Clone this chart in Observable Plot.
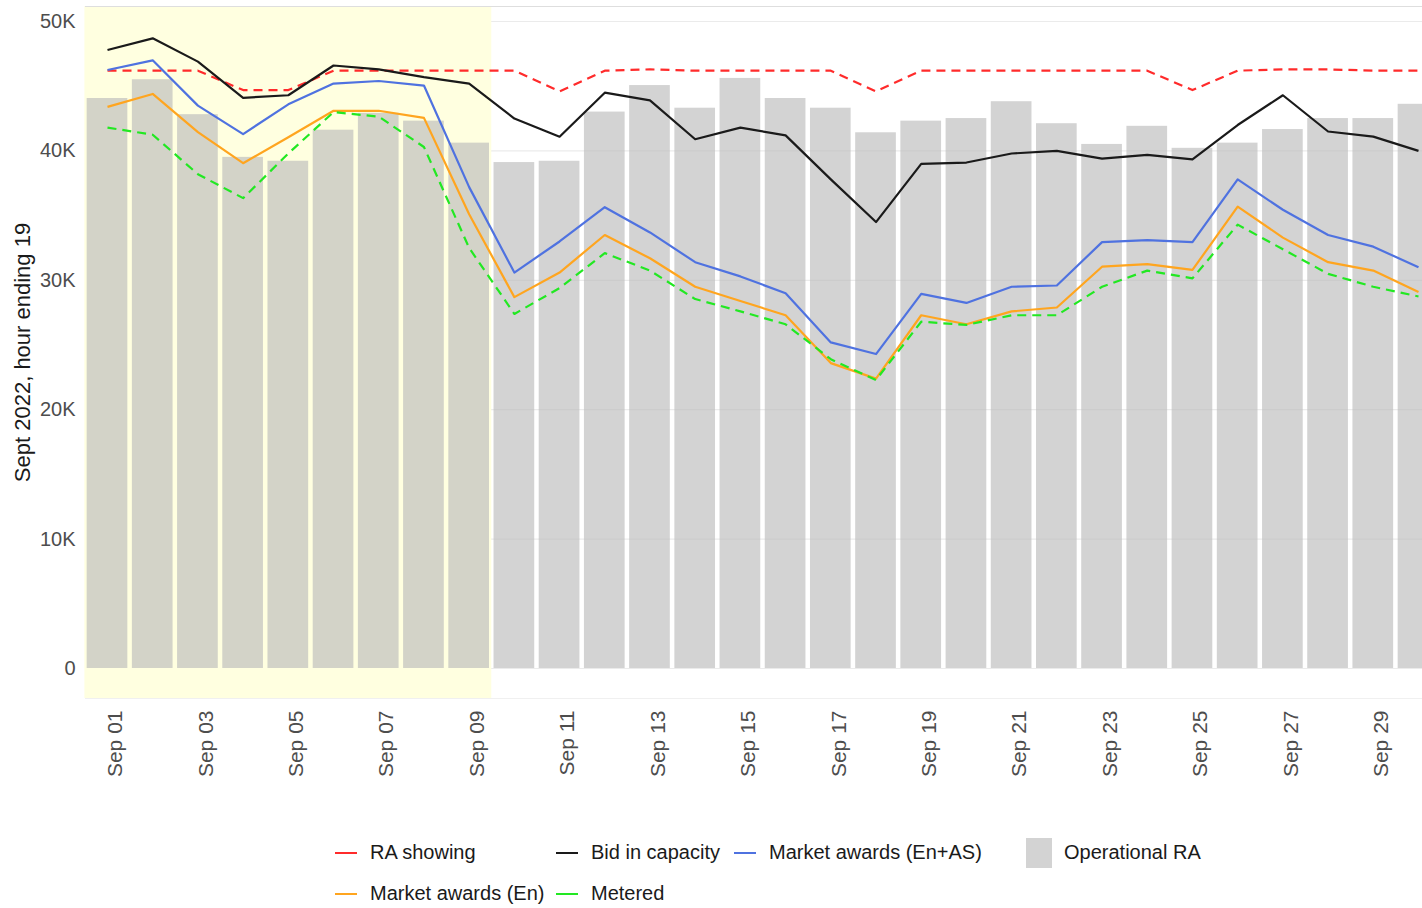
<!DOCTYPE html>
<html><head><meta charset="utf-8">
<script src="https://cdn.jsdelivr.net/npm/d3@7"></script>
<script src="https://cdn.jsdelivr.net/npm/@observablehq/plot@0.6"></script>
<style>
html,body{margin:0;padding:0;background:#fff;overflow:hidden;width:1422px;height:908px}
#wrap{position:relative;width:1422px;height:908px;font-family:"Liberation Sans",Arial,sans-serif}
#chart{position:absolute;left:0;top:0}
.lg{position:absolute;font-size:20px;color:#1a1a1a;line-height:20px;white-space:nowrap}
.key{position:absolute}
</style></head><body><div id="wrap"><div id="chart"></div><div id="legend"></div></div>
<script>
// ---- data (values in thousands of MW) ----
const days = d3.range(1, 31);
const tickDays = [1,3,5,7,9,11,13,15,17,19,21,23,25,27,29];
const operationalRA = [44.05,45.5,42.8,39.5,39.2,41.6,42.9,42.3,40.6,39.1,39.2,43.0,45.05,43.3,45.6,44.05,43.3,41.4,42.3,42.5,43.8,42.1,40.5,41.9,40.2,40.6,41.65,42.5,42.5,43.6];
const raShowing = [46.2,46.2,46.2,44.7,44.7,46.2,46.2,46.2,46.2,46.2,44.6,46.2,46.3,46.2,46.2,46.2,46.2,44.6,46.2,46.2,46.2,46.2,46.2,46.2,44.7,46.2,46.3,46.3,46.2,46.2];
const bidInCapacity = [47.8,48.7,46.9,44.1,44.3,46.6,46.3,45.7,45.2,42.5,41.1,44.5,43.9,40.9,41.8,41.2,37.8,34.5,39.0,39.1,39.8,40.0,39.4,39.7,39.35,42.0,44.3,41.5,41.1,40.0];
const awardsEnAS = [46.25,47.0,43.5,41.3,43.6,45.2,45.4,45.05,37.2,30.6,33.0,35.65,33.7,31.4,30.3,29.0,25.2,24.3,28.95,28.25,29.5,29.6,32.95,33.1,32.95,37.8,35.45,33.5,32.6,31.0];
const awardsEn = [43.4,44.4,41.45,39.05,41.05,43.1,43.1,42.55,35.1,28.7,30.6,33.5,31.7,29.5,28.4,27.3,23.6,22.4,27.3,26.6,27.6,27.9,31.05,31.25,30.8,35.7,33.3,31.4,30.75,29.1];
const metered = [41.8,41.25,38.2,36.35,39.8,43.0,42.65,40.3,32.5,27.4,29.4,32.1,30.75,28.55,27.6,26.6,23.9,22.3,26.8,26.55,27.3,27.3,29.5,30.75,30.15,34.3,32.4,30.5,29.5,28.75];
const yTicks = [0,10000,20000,30000,40000,50000];
const highlight = [{start: 0.5, end: 9.5}];
const yLabel = "Sept 2022, hour ending 19";

const seriesNames = ["RA showing","Bid in capacity","Market awards (En+AS)","Market awards (En)","Metered"];
const seriesKeys = ["ra","bid","enas","en","met"];
const seriesColors = ["#ff2b2b","#1a1a1a","#4f72e0","#ffa51f","#22e822"];
const seriesDash = ["9,6",null,null,null,"9,6"];
const barName = "Operational RA";

const rows = days.map((d, i) => ({
  day: d,
  op: operationalRA[i] * 1000,
  ra: raShowing[i] * 1000,
  bid: bidInCapacity[i] * 1000,
  enas: awardsEnAS[i] * 1000,
  en: awardsEn[i] * 1000,
  met: metered[i] * 1000
}));

const lineMarks = seriesKeys.map((k, i) => Plot.line(rows, {
  x: "day", y: k, stroke: seriesColors[i], strokeWidth: 2.2,
  strokeDasharray: seriesDash[i] || undefined, strokeLinecap: "butt"
}));

const chart = Plot.plot({
  width: 1422, height: 800,
  marginTop: 6, marginBottom: 102, marginLeft: 85, marginRight: 0,
  x: {type: "linear", domain: [1, 30], range: [107, 1418]},
  y: {domain: [0, 50000], range: [668, 21]},
  style: {fontFamily: "Liberation Sans, Arial, sans-serif", fontSize: "20px", color: "#4d4d4d", background: "transparent", overflow: "visible"},
  marks: [
    Plot.gridY(yTicks, {stroke: "#ebebeb", strokeOpacity: 1, strokeWidth: 1.2}),
    Plot.rect(highlight, {x1: "start", x2: "end", fill: "#ffffe0"}),
    Plot.frame({anchor: "top", stroke: "#dedede"}),
    Plot.frame({anchor: "bottom", stroke: "#f0f0f0"}),
    Plot.rect(rows, {x1: d => d.day - 0.45, x2: d => d.day + 0.45, y1: 0, y2: "op", fill: "#bbbbbb", fillOpacity: 0.65}),
    ...lineMarks,
    Plot.axisY(yTicks, {tickFormat: v => v === 0 ? "0" : (v / 1000) + "K", tickSize: 0, tickPadding: 10, label: null, fontSize: 20}),
    Plot.axisX(tickDays, {tickFormat: d => "Sep " + String(d).padStart(2, "0"), tickRotate: -90, tickSize: 0, tickPadding: 12, label: null, fontSize: 21, dx: 8}),
    Plot.text([yLabel], {frameAnchor: "left", dx: -63, rotate: -90, fontSize: 22, fill: "#1a1a1a", textAnchor: "middle", lineAnchor: "middle"})
  ]
});
document.getElementById("chart").appendChild(chart);

// ---- legend ----
const legend = document.getElementById("legend");
const legendSlots = [
  {x: 335, y: 853}, {x: 556, y: 853}, {x: 734, y: 853},
  {x: 335, y: 894}, {x: 556, y: 894}
];
seriesNames.forEach((name, i) => {
  const s = legendSlots[i];
  const k = document.createElement("div");
  k.className = "key";
  k.style.cssText = `left:${s.x}px;top:${s.y - 1}px;width:22px;height:2px;background:${seriesColors[i]}`;
  legend.appendChild(k);
  const t = document.createElement("div");
  t.className = "lg";
  t.style.cssText = `left:${s.x + 35}px;top:${s.y - 11}px`;
  t.textContent = name;
  legend.appendChild(t);
});
const bk = document.createElement("div");
bk.className = "key";
bk.style.cssText = "left:1026px;top:838px;width:26px;height:30px;background:#d3d3d3";
legend.appendChild(bk);
const bt = document.createElement("div");
bt.className = "lg";
bt.style.cssText = "left:1064px;top:842px";
bt.textContent = barName;
legend.appendChild(bt);
</script></body></html>
